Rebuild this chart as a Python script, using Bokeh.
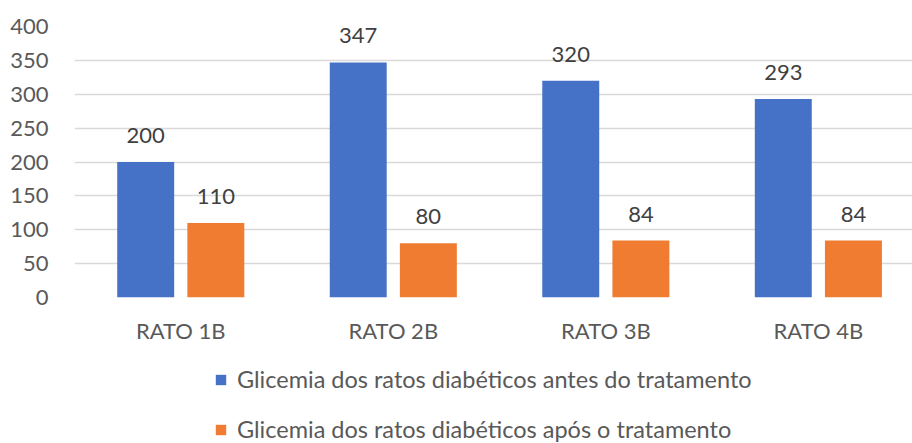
from bokeh.plotting import figure
from bokeh.layouts import column
from bokeh.models import (ColumnDataSource, Range1d, FixedTicker, SingleIntervalTicker,
                          LabelSet, Legend, LegendItem)
from bokeh.core.properties import value
from bokeh.transform import dodge
from bokeh.embed import file_html
from bokeh.resources import INLINE

categories = ["RATO 1B", "RATO 2B", "RATO 3B", "RATO 4B"]
antes = [200, 347, 320, 293]
apos = [110, 80, 84, 84]
series_names = ["Glicemia dos ratos diabéticos antes do tratamento",
                "Glicemia dos ratos diabéticos após o tratamento"]
y_ticks_step = 50

FONT = "Lato"
TXT = "#595959"
LBL = "#404040"
BLUE = "#4571c6"
ORANGE = "#ef7c30"

pos = list(range(len(categories)))
src = ColumnDataSource(dict(x=pos, antes=antes, apos=apos,
                            antes_s=[str(v) for v in antes],
                            apos_s=[str(v) for v in apos]))

p = figure(width=912, height=350, output_backend="svg", toolbar_location=None,
           x_range=Range1d(-0.5, 3.443), y_range=Range1d(0, 400),
           min_border_left=74, min_border_right=0, min_border_top=26,
           min_border_bottom=53)
p.outline_line_color = None

off = 0.165
w = 0.268
p.vbar(x=dodge("x", -off, range=p.x_range), top="antes", width=w, source=src,
       fill_color=BLUE, line_color=None)
p.vbar(x=dodge("x", off, range=p.x_range), top="apos", width=w, source=src,
       fill_color=ORANGE, line_color=None)

for col, o in (("antes", -off), ("apos", off)):
    p.add_layout(LabelSet(x=dodge("x", o, range=p.x_range), y=col, text=col + "_s",
                          source=src, y_offset=19, text_align="center",
                          text_baseline="alphabetic", text_font=value(FONT),
                          text_font_size="22px", text_color=LBL))

# axes
p.xaxis.ticker = FixedTicker(ticks=pos)
p.xaxis.major_label_overrides = {i: c for i, c in zip(pos, categories)}
p.yaxis.ticker = SingleIntervalTicker(interval=y_ticks_step)
for ax in (p.xaxis[0], p.yaxis[0]):
    ax.axis_line_color = None
    ax.major_tick_line_color = None
    ax.minor_tick_line_color = None
    ax.major_label_text_font = FONT
    ax.major_label_text_font_size = "22px"
    ax.major_label_text_color = TXT
p.yaxis.major_label_standoff = 20
p.xaxis.major_label_standoff = 13

p.xgrid.grid_line_color = None
p.ygrid.grid_line_color = "#d9d9d9"
p.ygrid.grid_line_width = 1.5

# legend panel (frames are aligned with the chart above, so x is from x=74)
lg = figure(width=912, height=93, output_backend="svg", toolbar_location=None,
            x_range=Range1d(0, 1), y_range=Range1d(0, 1),
            x_axis_location=None, y_axis_location=None,
            min_border=0)
lg.outline_line_color = None
lg.xgrid.visible = False
lg.ygrid.visible = False
# legend keys only (outside the visible range)
k1 = lg.vbar(x=[-5], top=[-5], width=0.1, fill_color=BLUE, line_color=None)
k2 = lg.vbar(x=[-5], top=[-5], width=0.1, fill_color=ORANGE, line_color=None)
legend = Legend(items=[LegendItem(label=series_names[0], renderers=[k1]),
                       LegendItem(label=series_names[1], renderers=[k2])],
                location=(140, 0), orientation="vertical",
                padding=0, margin=0, spacing=22,
                glyph_width=13, glyph_height=13, label_height=22,
                label_standoff=10, label_text_font=FONT,
                label_text_font_size="23.5px", label_text_color=TXT,
                border_line_alpha=0, background_fill_alpha=0)
lg.add_layout(legend)

layout = column(p, lg, spacing=0)
open("out.html", "w").write(file_html(layout, INLINE))
